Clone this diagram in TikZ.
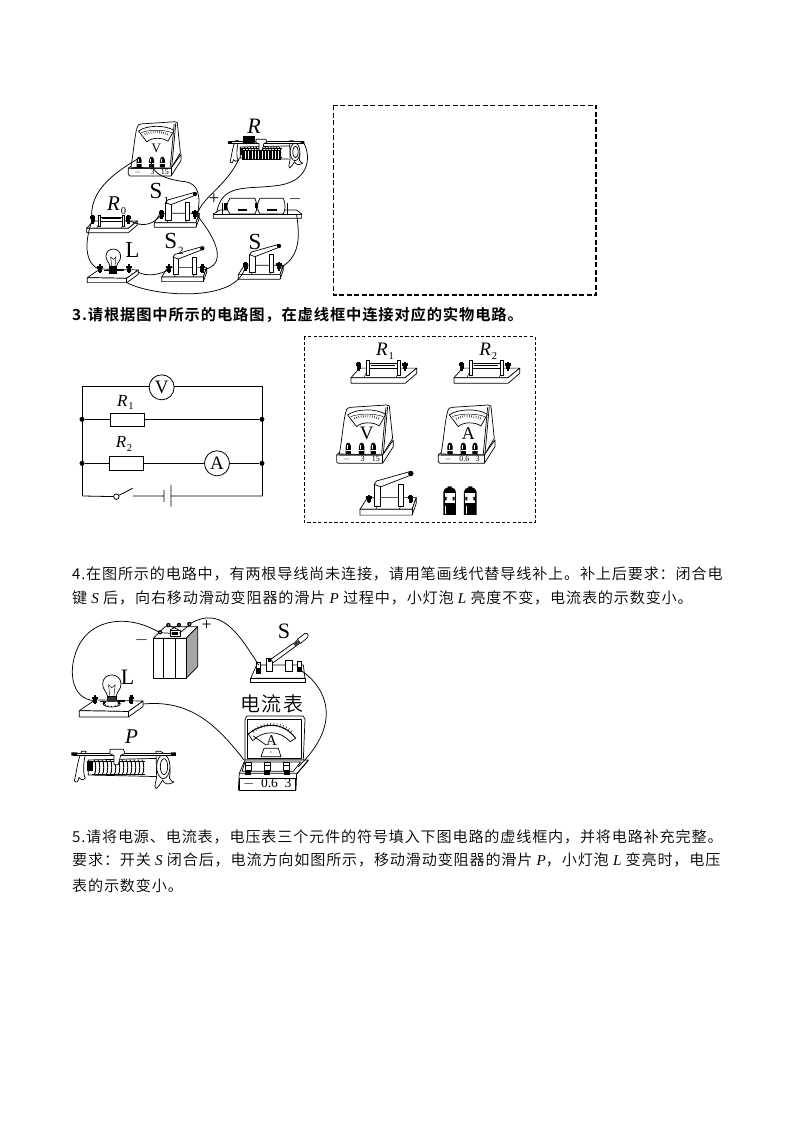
\documentclass[tikz,border=0pt]{standalone}
\usepackage{fontspec}
\setmainfont{Liberation Serif}
\newfontfamily\cjk[LetterSpace=5.5]{Noto Sans CJK SC DemiLight}
\newfontfamily\cjkb[LetterSpace=5.5]{Noto Sans CJK SC Bold}
\newcommand{\va}[1]{{\rmfamily\itshape #1}}
\newcommand{\lab}[2]{{\fontsize{#1}{#1}\selectfont #2}}
\newcommand{\sublab}[3]{{\fontsize{#1}{#1}\selectfont\textit{#2}\kern0.05em\raisebox{-0.2em}{\fontsize{10.5}{10.5}\selectfont #3}}}
\newcommand{\subup}[3]{{\fontsize{#1}{#1}\selectfont #2\kern0.05em\raisebox{-0.25em}{\fontsize{11}{11}\selectfont #3}}}
\tikzset{
  part/.style={draw=black,line width=0.7pt,line join=round},
  thinp/.style={draw=black,line width=0.45pt},
  wire/.style={draw=black,line width=0.75pt},
  cir/.style={draw=black,line width=0.8pt},
  txt/.style={anchor=west,inner sep=0pt,font=\cjk\fontsize{15.1}{15.1}\selectfont,text=black},
  txtb/.style={anchor=west,inner sep=0pt,font=\cjkb\fontsize{15.3}{15.3}\selectfont},
  lb/.style={inner sep=0pt},
  dot/.style={circle,fill=black,inner sep=0pt,minimum size=5pt},
  meterc/.style={circle,draw=black,line width=0.8pt,fill=white,inner sep=0pt,minimum size=25pt,font=\fontsize{19}{19}\selectfont},
  resbox/.style={draw=black,line width=0.8pt,fill=white,inner sep=0pt,minimum width=34pt,minimum height=13.5pt},
  pics/term/.style={code={
    \fill[black] (-6,-6) rectangle (6,6);
    \fill[black] (-8,-12) rectangle (8,-4);
    \fill[black] (-4,-16) rectangle (4,10);
    \coordinate (-t) at (0,0);
  }},
  pics/knife/.style={code={
    \draw[part,fill=white] (0,0)--(18,-28)--(135,-28)--(125,0)--cycle;
    \draw[part,fill=white] (0,0)--(0,14)--(125,14)--(135,-14)--(135,-28)--(125,0)--cycle;
    \draw[part] (125,0)--(125,14);
    \pic at (22,-22) {term};
    \pic at (122,-22) {term};
    \draw[part,fill=white] (34,-60) rectangle (50,-8);
    \draw[part,fill=white] (92,-60) rectangle (105,-8);
    \draw[thinp] (42,-8)--(38,0) (98,-8)--(94,0);
    \draw[part,fill=white] (34,-60)--(40,-68)--(118,-90)--(122,-82)--(50,-54)--cycle;
    \fill[black] (122,-86) circle (6.5);
    \coordinate (-l) at (20,-22);
    \coordinate (-r) at (128,-22);
  }},
  pics/fixedr/.style={code={
    \draw[part,fill=white] (0,0)--(20,-22)--(152,-22)--(125,0)--cycle;
    \draw[part,fill=white] (0,0)--(0,13)--(125,13)--(152,-10)--(152,-22)--(125,0)--cycle;
    \draw[thinp] (30,0)--(40,-22) (104,0)--(114,-22);
    \pic at (18,-24) {term};
    \pic at (125,-24) {term};
    \draw[part,fill=white] (42,-33) rectangle (106,-21);
    \draw[thinp] (46,-29)--(102,-29);
    \draw[part,fill=white] (35,-40) rectangle (42,-6);
    \draw[part,fill=white] (106,-40) rectangle (113,-6);
    \coordinate (-l) at (16,-22);
    \coordinate (-r) at (130,-22);
  }},
  pics/meter/.style n args={5}{code={
    \draw[part,fill=white] (8,-28) .. controls (15,-60) and (20,-130) .. (28,-155) .. controls (30,-165) and (35,-168) .. (42,-168) -- (150,-175) -- (158,-172) -- (168,-75) -- (138,-25) -- cycle;
    \draw[part] (148,-168)--(135,-28) (153,-170)--(140,-28);
    \draw[part,fill=white] (0,-25)--(0,-5)--(5,0)--(138,0)--(170,-50)--(170,-70)--(138,-25)--cycle;
    \draw[part] (138,-25)--(138,0);
    \draw[part] (0,-25)--(8,-32) (138,-25)--(8,-25);
    \draw[part,fill=white] (33,-145) .. controls (60,-165) and (120,-165) .. (147,-147) -- (128,-112) .. controls (110,-125) and (75,-125) .. (60,-110) -- cycle;
    \draw[thinp] (42,-140) .. controls (65,-150) and (115,-150) .. (140,-140);
    \foreach \a in {68,72,...,112} {\draw[thinp] ({90+100*cos(\a)},{-45-100*sin(\a)})--({90+93*cos(\a)},{-45-93*sin(\a)});}
    \node[lb] at (90,-90) {\lab{#5}{#1}};
    \foreach \x/\n in {35/a,75/b,110/c} {
      \fill[black] (\x-8,-28)--(\x-8,-50) .. controls (\x-8,-66) and (\x+8,-66) .. (\x+8,-50)--(\x+8,-28)--cycle;
      \draw[white,line width=0.8pt] (\x-3,-56)--(\x-3,-44);
      \draw[white,line width=0.6pt] (\x-8,-40)--(\x+8,-40);
      \coordinate (-\n) at (\x,-58);
    }
    \node[lb] at (30,-12) {\lab{8}{#2}};
    \node[lb] at (78,-12) {\lab{8}{#3}};
    \node[lb] at (118,-12) {\lab{8}{#4}};
  }},
  pics/lamp/.style={code={
    \draw[part,fill=white] (0,0)--(38,-26)--(153,-23)--(118,2)--cycle;
    \draw[part,fill=white] (0,0)--(0,15)--(118,15)--(153,-10)--(153,-23)--(118,2)--cycle;
    \draw[part] (118,2)--(118,15);
    \pic at (38,-24) {term};
    \pic at (125,-24) {term};
    \draw[part] (50,-22)--(110,-22);
    \draw[part,fill=white] (68,-34) .. controls (65,-48) and (56,-50) .. (56,-64) .. controls (56,-93) and (100,-93) .. (100,-64) .. controls (100,-50) and (91,-48) .. (88,-34) -- cycle;
    \draw[thinp] (73,-36)--(70,-62)--(78,-55)--(86,-62)--(83,-36);
    \fill[black] (66,-36) rectangle (90,-10);
    \coordinate (-l) at (38,-24);
    \coordinate (-r) at (153,-16);
    \coordinate (-f) at (118,15);
  }},
  pics/rheo/.style={code={
    \draw[part,fill=white] (45,18)--(262,13)--(262,68)--(45,63)--cycle;
    \foreach \x in {62,74,...,206} {\draw[part,line width=0.9pt] (\x,17) .. controls (\x+7,25) and (\x+7,55) .. (\x,64);}
    \draw[part,line width=0.9pt] (55,22)--(215,22) (55,60)--(215,60);
    \fill[black] (42,22) rectangle (58,52);
    \draw[part,fill=white] (25,-8) .. controls (12,20) and (10,55) .. (3,80) .. controls (8,88) and (15,85) .. (17,70) .. controls (22,78) and (30,80) .. (36,72) .. controls (28,60) and (30,25) .. (38,-8) -- cycle;
    \draw[part,fill=white] (248,-8)--(262,-8) .. controls (285,5) and (295,40) .. (288,72) .. controls (292,80) and (298,85) .. (302,84) .. controls (285,95) and (272,90) .. (268,78) .. controls (262,88) and (255,100) .. (248,104) .. controls (240,98) and (250,80) .. (250,68) -- cycle;
    \draw[part,fill=white] (270,38) ellipse (20 and 36);
    \draw[part] (272,38) ellipse (11 and 24);
    \draw[part,fill=white,line width=0.9pt] (0,-3) rectangle (305,3);
    \fill[black] (-6,-5) rectangle (12,5) (293,-5) rectangle (308,5);
    \draw[part,fill=white] (110,-14)--(150,-14)--(155,-2)--(142,4)--(135,32)--(122,32)--(122,4)--(110,0)--cycle;
    \coordinate (-l) at (42,62);
    \coordinate (-r) at (305,0);
    \coordinate (-m) at (130,-14);
  }},
  pics/cellb/.style={code={
    \fill[black] (-19,-30) .. controls (-19,-38) and (-10,-42) .. (-6,-42) -- (-6,-46) -- (6,-46) -- (6,-42) .. controls (10,-42) and (19,-38) .. (19,-30) -- (19,40) -- (-19,40) -- cycle;
    \fill[white] (-15,-25) rectangle (15,5);
    \fill[black] (-15,-14) rectangle (-9,-4) (9,-14) rectangle (15,-4);
    \fill[white] (-13,12) rectangle (-10,36);
  }}
}
\begin{document}
\begin{tikzpicture}[x=1pt,y=-1pt]
\useasboundingbox (0,0) rectangle (794,1123);
\fill[white] (0,0) rectangle (794,1123);

% --- top figure
\begin{scope}[shift={(70,100)},x=0.3333pt,y=-0.3333pt]
  \pic (mv) at (175,228) [scale=0.93] {meter={V}{$-$}{3}{15}{13}};
  \pic (s1) at (253,368) {knife};
  \pic (s2) at (275,531) {knife};
  \pic (s0) at (505,524) {knife};
  \pic (r0) at (50,385) {fixedr};
  \pic (lp) at (52,533) {lamp};
  \pic (rh) at (478,128) [scale=0.73] {rheo};
  \fill[black] (520,108) rectangle (556,132);
  \fill[black] (515,150) rectangle (632,180);
  \foreach \x in {525,535,...,625} {\draw[white,line width=0.25pt] (\x,152)--(\x,178);}
  % battery holder
  \draw[part,fill=white] (430,342)--(450,330)--(680,330)--(695,342)--(695,355)--(430,355)--cycle;
  \draw[part] (430,342)--(695,342);
  \draw[part,fill=white] (480,295) -- (555,295) .. controls (562,310) and (562,330) .. (555,342) -- (480,342) .. controls (468,330) and (468,310) .. (480,295) -- cycle;
  \draw[part,fill=white] (570,295) -- (640,295) .. controls (647,310) and (647,330) .. (640,342) -- (570,342) .. controls (560,330) and (560,310) .. (570,295) -- cycle;
  \fill[black] (555,310) rectangle (565,325);
  \fill[black] (462,310) rectangle (472,330);
  \draw[part,line width=1.2pt] (505,330)--(530,330) (590,330)--(620,330);
  \draw[part] (458,342)--(458,310) (652,342)--(652,310);
  \coordinate (bp) at (440,338);
  \coordinate (bn) at (680,345);
  \draw[wire] (mv-a) .. controls (120,225) and (55,280) .. (r0-l);
  \draw[wire] (mv-b) .. controls (235,225) and (300,240) .. (345,245) .. controls (385,250) and (395,290) .. (s1-r);
  \draw[wire] (s1-r) .. controls (395,290) and (470,260) .. (rh-l);
  \draw[wire] (rh-r) .. controls (725,170) and (720,250) .. (610,258) .. controls (530,268) and (455,250) .. (bp);
  \draw[wire] (bn) .. controls (690,410) and (690,470) .. (s0-r);
  \draw[wire] (s1-l) .. controls (250,370) and (225,385) .. (r0-r);
  \draw[wire] (r0-l) .. controls (45,420) and (40,490) .. (lp-l);
  \draw[wire] (lp-r) .. controls (230,530) and (270,525) .. (s2-l);
  \draw[wire] (s2-r) .. controls (465,495) and (450,430) .. (s1-r);
  \draw[wire] (lp-f) .. controls (250,590) and (500,610) .. (s0-l);
  \node[lb] (tR) at (552,78) {\lab{22}{\textit{R}}};
  \node[lb] (tS1) at (268,282) {\subup{23}{S}{1}};
  \node[lb] (tR0) at (140,318) {\sublab{21}{R}{0}};
  \node[lb] (tL) at (187,450) {\lab{23}{L}};
  \node[lb] (tS2) at (312,432) {\subup{23}{S}{2}};
  \node[lb] (tS) at (555,425) {\lab{23}{S}};
  \node[lb] (tp) at (432,298) {\lab{19}{+}};
  \node[lb] (tm) at (675,298) {\lab{19}{$-$}};
\end{scope}

% --- top dashed box
\draw[black,line width=1.5pt,dash pattern=on 5pt off 2.5pt] (333.5,105.5) rectangle (596,295);

% --- question 3
\node[txtb] (q3) at (72,315) {3.请根据图中所示的电路图，在虚线框中连接对应的实物电路。};

\begin{scope}[shift={(70,300)},x=0.3333pt,y=-0.3333pt]
  \coordinate (tl) at (37,260);
  \coordinate (tr) at (578,260);
  \coordinate (bl) at (37,588);
  \coordinate (br) at (578,588);
  \node[dot] (d1) at (36,358) {};
  \node[dot] (d2) at (36,490) {};
  \node[dot] (d3) at (576,358) {};
  \node[dot] (d4) at (576,490) {};
  \draw[cir] (tl)--(tr)--(br) (tl)--(bl);
  \draw[cir] (d1)--(d3) (d2)--(d4);
  \node[meterc] (cv) at (275,262) {V};
  \node[meterc] (ca) at (441,490) {A};
  \node[resbox] (b1) at (171,360) {};
  \node[resbox] (b2) at (169,490) {};
  \node[lb] (lr1) at (166,308) {\sublab{17}{R}{1}};
  \node[lb] (lr2) at (162,432) {\sublab{17}{R}{2}};
  \node[circle,draw=black,line width=0.8pt,fill=white,inner sep=0pt,minimum size=5.5pt] (sw) at (139,590) {};
  \coordinate (swe) at (188,565);
  \coordinate (g1) at (188,588);
  \coordinate (p1a) at (282,570);
  \coordinate (p1b) at (282,606);
  \coordinate (p2a) at (303,555);
  \coordinate (p2b) at (303,620);
  \coordinate (m1) at (282,588);
  \coordinate (m2) at (303,588);
  \draw[cir] (bl)--(sw) (sw)--(swe) (g1)--(m1) (m2)--(br) (p1a)--(p1b) (p2a)--(p2b);

  \draw[black,line width=0.9pt,dash pattern=on 3.2pt off 2.2pt] (703,110) rectangle (1395,668);
  \pic (q1) at (843,233) [scale=1.3] {fixedr};
  \pic (q2) at (1152,233) [scale=1.3] {fixedr};
  \node[lb] (l1) at (945,153) {\sublab{19}{R}{1}};
  \node[lb] (l2) at (1255,153) {\sublab{19}{R}{2}};
  \pic (qv) at (800,490) {meter={V}{$-$}{3}{15}{19}};
  \pic (qa) at (1105,490) {meter={A}{$-$}{0.6}{3}{18}};
  \pic (qs) at (870,628) [scale=1.25] {knife};
  \pic (c1) at (1139,605) {cellb};
  \pic (c2) at (1201,605) {cellb};
\end{scope}

% --- question 4
\node[txt] (q41) at (72,574) {4.在图所示的电路中，有两根导线尚未连接，请用笔画线代替导线补上。补上后要求：闭合电};
\node[txt] (q42) at (72,598) {键 \va{S} 后，向右移动滑动变阻器的滑片 \va{P} 过程中，小灯泡 \va{L} 亮度不变，电流表的示数变小。};

\begin{scope}[shift={(60,610)},x=0.3333pt,y=-0.3333pt]
  % battery
  \draw[part,fill=white] (280,85)--(315,50)--(413,50)--(378,85)--cycle;
  \draw[part,fill=black!35] (378,85)--(413,50)--(413,170)--(378,205)--cycle;
  \draw[part,fill=white] (280,85) rectangle (378,205);
  \draw[part] (310,85)--(310,205) (345,85)--(345,205);
  \draw[part,fill=white] (330,60) rectangle (360,80);
  \fill[black] (335,65) rectangle (355,76);
  \draw[part] (325,45)--(357,60) (357,45)--(330,60) (300,68)--(335,70) (388,45)--(358,70);
  \foreach \p in {(300,67),(325,45),(357,45),(388,42)} {\fill[black] \p circle (6.5); \fill[white] \p circle (2.2);}
  \coordinate (bm) at (298,67);
  \coordinate (bpp) at (392,40);
  \node[lb] (tm4) at (245,92) {\lab{18}{$-$}};
  \node[lb] (tp4) at (440,45) {\lab{18}{+}};
  % switch
  \draw[part,fill=white] (572,205)--(590,165)--(730,165)--(735,205)--cycle;
  \draw[part,fill=white] (572,205) rectangle (735,218);
  \draw[part,fill=white] (590,158) rectangle (602,190);
  \fill[black] (590,175) rectangle (602,190);
  \draw[part,fill=white] (712,155) rectangle (725,185);
  \fill[black] (712,170) rectangle (725,185);
  \draw[part,fill=white] (618,145) rectangle (638,185);
  \fill[black] (624,145) rectangle (632,155);
  \draw[part,fill=white] (677,150) rectangle (697,185);
  \draw[part,fill=white] (632,148)--(700,100)--(708,108)--(640,158)--cycle;
  \fill[black!75] (700,100)--(710,90)--(722,100)--(708,110)--cycle;
  \draw[part,fill=white] (712,88)--(735,70) .. controls (745,68) and (748,78) .. (740,85) -- (722,100)--cycle;
  \coordinate (sl) at (596,165);
  \coordinate (sr) at (718,178);
  \node[lb] (tS4) at (672,65) {\lab{22}{S}};
  % lamp
  \pic (lq) at (58,302) [scale=1.25] {lamp};
  \draw[part,fill=white] (155,281) ellipse (26 and 10);
  \foreach \a in {0,30,...,330} {\draw[part,line width=1pt] ({155+20*cos(\a)},{281+7*sin(\a)})--({155+26*cos(\a)},{281+10*sin(\a)});}
  \fill[black!80] (142,262) rectangle (168,276);
  \node[lb] (tL4) at (203,203) {\lab{22}{L}};
  % ammeter
  \draw[part,fill=white] (560,318)--(730,318)--(735,328)--(730,450)--(555,450)--(555,330)--cycle;
  \draw[part] (562,328) rectangle (725,445);
  \draw[part,fill=white] (538,490)--(555,450)--(745,450)--(710,492)--(708,540)--(535,540)--cycle;
  \draw[part] (538,490)--(710,490) (710,492)--(745,452);
  \draw[part] (555,456)--(722,456)--(700,484)--(546,484)--cycle;
  \draw[part,line width=1pt] (565,372) .. controls (610,335) and (670,335) .. (707,385);
  \draw[part] (578,392) .. controls (610,360) and (660,360) .. (690,395);
  \draw[part] (565,372)--(578,392) (707,385)--(690,395);
  \foreach \a in {50,56,...,128} {\draw[thinp] ({635+86*cos(\a)},{435-86*sin(\a)})--({635+96*cos(\a)},{435-96*sin(\a)});}
  \draw[part] (618,405)--(580,378);
  \draw[part,fill=white] (603,440)--(612,415)--(655,415)--(663,440)--cycle;
  \fill[black] (633,426) circle (1.6);
  \node[lb] at (635,393) {\lab{15}{A}};
  \foreach \x in {565,622,680} {\draw[part,fill=white] (\x-9,458) rectangle (\x+9,482); \fill[black] (\x-9,482) rectangle (\x+9,494);\draw[part] (\x-9,465)--(\x+9,465);}
  \draw[part,fill=white] (537,505) rectangle (707,540);
  \node[lb] (lb4) at (622,522) {\lab{13.5}{$-$\ \ 0.6\ \ 3}};
  \coordinate (al) at (552,450);
  \coordinate (ar) at (715,470);
  \node[lb] (tam) at (636,282) {\cjk\fontsize{20}{20}\selectfont 电流表};
  % rheostat
  \pic (rq) at (40,432) {rheo};
  \node[lb] (tP) at (215,380) {\lab{21}{\textit{P}}};
  % wires
  \draw[wire] (bm) .. controls (200,10) and (100,30) .. (60,100) .. controls (20,170) and (30,270) .. (lq-l);
  \draw[wire] (bpp) .. controls (480,-10) and (530,60) .. (sl);
  \draw[wire] (sr) .. controls (800,230) and (850,340) .. (ar);
  \draw[wire] (lq-r) .. controls (380,270) and (460,330) .. (al);
\end{scope}

% --- question 5
\node[txt] (q51) at (72,837) {5.请将电源、电流表，电压表三个元件的符号填入下图电路的虚线框内，并将电路补充完整。};
\node[txt] (q52) at (72,860) {要求：开关 \va{S} 闭合后，电流方向如图所示，移动滑动变阻器的滑片 \va{P}，小灯泡 \va{L} 变亮时，电压};
\node[txt] (q53) at (72,886) {表的示数变小。};
\end{tikzpicture}
\end{document}
